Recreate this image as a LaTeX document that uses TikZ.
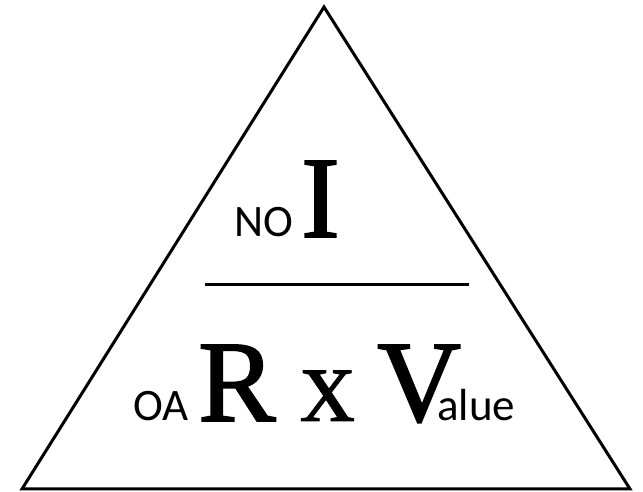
\documentclass[tikz,border=0pt]{standalone}
\usepackage{fontspec}
\setmainfont{Liberation Serif}
\newfontfamily\bigserif[FakeBold=1.6]{Liberation Serif}
\newfontfamily\xserif[FakeBold=0.6]{Liberation Serif}
\newfontfamily\smallsans{Carlito}
\begin{document}
\begin{tikzpicture}[x=1pt,y=1pt,
  big/.style={inner sep=0pt,anchor=base west,font=\bigserif\fontsize{116}{116}\selectfont},
  small/.style={inner sep=0pt,anchor=base west,font=\smallsans\fontsize{45}{45}\selectfont},
  edge/.style={line width=3pt,line join=miter}]
\useasboundingbox (0,0) rectangle (643,492);
\coordinate (apex) at (324,485);
\coordinate (bl) at (22,3);
\coordinate (br) at (630,3);
\draw[edge] (apex) -- (br) -- (bl) -- cycle;
\coordinate (hl) at (205,207.5);
\coordinate (hr) at (469,207.5);
\draw[line width=3pt] (hl) -- (hr);
\node[small] (no) at (234,255) {NO};
\node[big] (i) at (301,255) {I};
\node[small] (oa) at (133,71) {OA};
\node[big] (r) at (198,71) {R};
\node[big,font=\xserif\fontsize{110}{110}\selectfont] (x) at (300,71) {x};
\node[big] (v) at (377,71) {V};
\node[small] (alue) at (437,71) {alue};
\end{tikzpicture}
\end{document}
